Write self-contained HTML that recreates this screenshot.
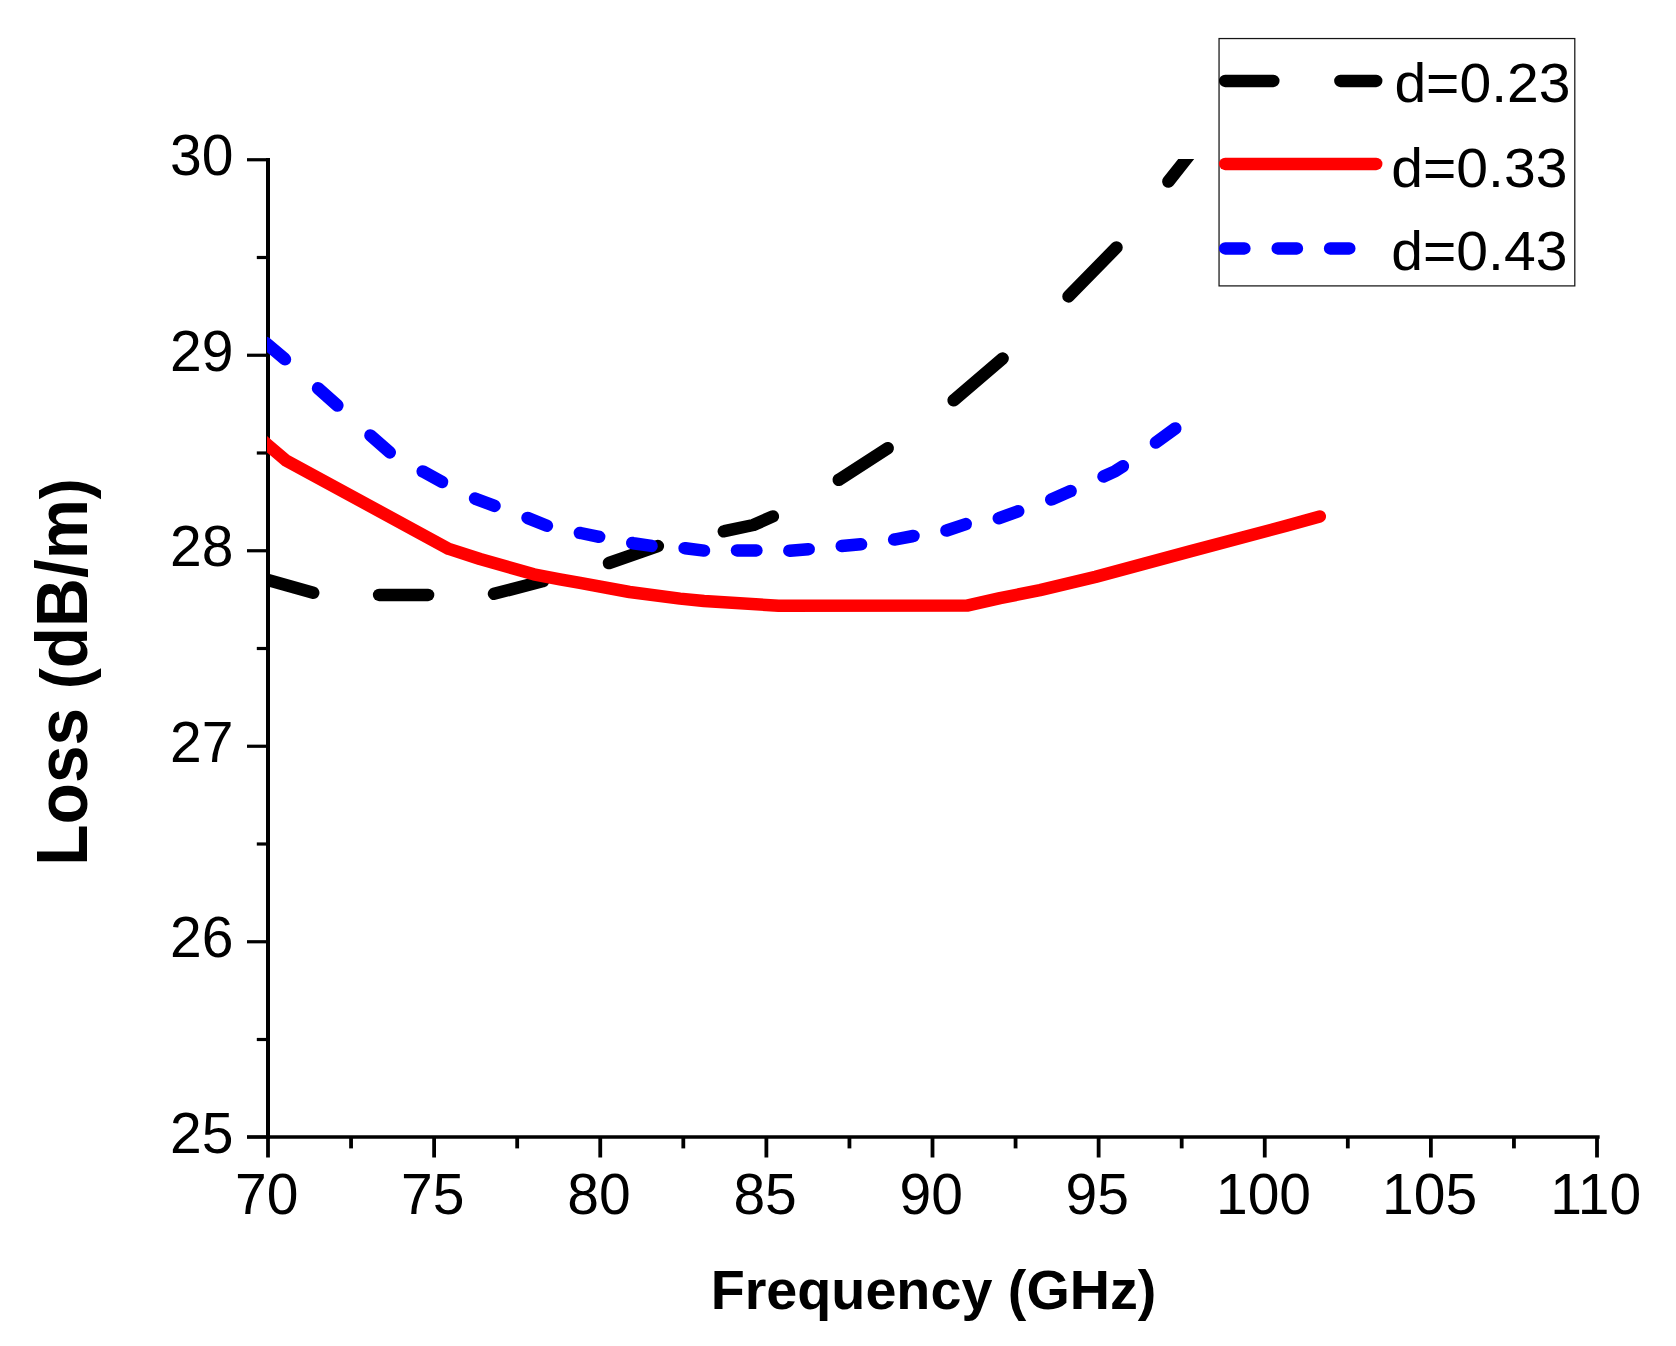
<!DOCTYPE html>
<html lang="en"><head><meta charset="utf-8"><title>Loss vs Frequency</title>
<style>html,body{margin:0;padding:0;background:#fff}body{width:1676px;height:1346px;overflow:hidden}</style></head>
<body>
<svg width="1676" height="1346" viewBox="0 0 1676 1346" style="display:block">
<rect width="1676" height="1346" fill="#fff"/>
<defs><clipPath id="cp"><rect x="267.0" y="159.0" width="1340" height="990"/></clipPath></defs>
<g stroke="#000" fill="none" stroke-linecap="butt">
<line x1="268.0" y1="157.9" x2="268.0" y2="1138.9" stroke-width="4"/>
<line x1="266" y1="1137.0" x2="1599.65" y2="1137.0" stroke-width="3.7"/>
<line x1="256.8" y1="1039.50" x2="268.0" y2="1039.50" stroke-width="3.2"/>
<line x1="247.0" y1="941.75" x2="268.0" y2="941.75" stroke-width="3.2"/>
<line x1="256.8" y1="844.00" x2="268.0" y2="844.00" stroke-width="3.2"/>
<line x1="247.0" y1="746.25" x2="268.0" y2="746.25" stroke-width="3.2"/>
<line x1="256.8" y1="648.50" x2="268.0" y2="648.50" stroke-width="3.2"/>
<line x1="247.0" y1="550.75" x2="268.0" y2="550.75" stroke-width="3.2"/>
<line x1="256.8" y1="453.00" x2="268.0" y2="453.00" stroke-width="3.2"/>
<line x1="247.0" y1="355.25" x2="268.0" y2="355.25" stroke-width="3.2"/>
<line x1="256.8" y1="257.50" x2="268.0" y2="257.50" stroke-width="3.2"/>
<line x1="247.0" y1="159.75" x2="268.0" y2="159.75" stroke-width="3.2"/>
<line x1="247.0" y1="1137.0" x2="268.0" y2="1137.0" stroke-width="3.7"/>
<line x1="268.00" y1="1137.0" x2="268.00" y2="1157.5" stroke-width="3.8"/>
<line x1="351.06" y1="1137.0" x2="351.06" y2="1148.4" stroke-width="3.8"/>
<line x1="434.12" y1="1137.0" x2="434.12" y2="1157.5" stroke-width="3.8"/>
<line x1="517.19" y1="1137.0" x2="517.19" y2="1148.4" stroke-width="3.8"/>
<line x1="600.25" y1="1137.0" x2="600.25" y2="1157.5" stroke-width="3.8"/>
<line x1="683.31" y1="1137.0" x2="683.31" y2="1148.4" stroke-width="3.8"/>
<line x1="766.38" y1="1137.0" x2="766.38" y2="1157.5" stroke-width="3.8"/>
<line x1="849.44" y1="1137.0" x2="849.44" y2="1148.4" stroke-width="3.8"/>
<line x1="932.50" y1="1137.0" x2="932.50" y2="1157.5" stroke-width="3.8"/>
<line x1="1015.56" y1="1137.0" x2="1015.56" y2="1148.4" stroke-width="3.8"/>
<line x1="1098.62" y1="1137.0" x2="1098.62" y2="1157.5" stroke-width="3.8"/>
<line x1="1181.69" y1="1137.0" x2="1181.69" y2="1148.4" stroke-width="3.8"/>
<line x1="1264.75" y1="1137.0" x2="1264.75" y2="1157.5" stroke-width="3.8"/>
<line x1="1347.81" y1="1137.0" x2="1347.81" y2="1148.4" stroke-width="3.8"/>
<line x1="1430.88" y1="1137.0" x2="1430.88" y2="1157.5" stroke-width="3.8"/>
<line x1="1513.94" y1="1137.0" x2="1513.94" y2="1148.4" stroke-width="3.8"/>
<line x1="1597.00" y1="1137.0" x2="1597.00" y2="1157.5" stroke-width="3.8"/>
</g>
<g font-family="'Liberation Sans', sans-serif" font-size="57" fill="#000">
<text x="233.5" y="1152.5" text-anchor="end">25</text>
<text x="233.5" y="957.0" text-anchor="end">26</text>
<text x="233.5" y="761.5" text-anchor="end">27</text>
<text x="233.5" y="566.0" text-anchor="end">28</text>
<text x="233.5" y="370.5" text-anchor="end">29</text>
<text x="233.5" y="175.0" text-anchor="end">30</text>
<text x="266.7" y="1214.0" text-anchor="middle">70</text>
<text x="432.8" y="1214.0" text-anchor="middle">75</text>
<text x="599.0" y="1214.0" text-anchor="middle">80</text>
<text x="765.1" y="1214.0" text-anchor="middle">85</text>
<text x="931.2" y="1214.0" text-anchor="middle">90</text>
<text x="1097.3" y="1214.0" text-anchor="middle">95</text>
<text x="1263.5" y="1214.0" text-anchor="middle">100</text>
<text x="1429.6" y="1214.0" text-anchor="middle">105</text>
<text x="1595.7" y="1214.0" text-anchor="middle">110</text>
</g>
<text transform="translate(933.5 1309.2) scale(0.988 1)" text-anchor="middle" font-family="'Liberation Sans', sans-serif" font-weight="bold" font-size="56.4" fill="#000">Frequency (GHz)</text>
<text transform="translate(87.4 672) rotate(-90) scale(0.946 1)" text-anchor="middle" font-family="'Liberation Sans', sans-serif" font-weight="bold" font-size="71.5" fill="#000">Loss <tspan font-size="66.2">(</tspan>dB/m<tspan font-size="66.2">)</tspan></text>
<g clip-path="url(#cp)" fill="none" stroke-width="12.5" stroke-linecap="round" stroke-linejoin="round">
<path d="M264.2 578.9 L268.0 580.0 L313.2 592.7" stroke="#000"/>
<path d="M379.1 594.9 L428.1 594.9" stroke="#000"/>
<path d="M494.0 593.8 L542.4 581.3 L543.0 581.1" stroke="#000"/>
<path d="M608.9 563.1 L609.1 563.0 L657.7 546.1 L657.9 546.1" stroke="#000"/>
<path d="M723.8 531.3 L724.4 531.2 L753.4 525.0 L772.8 516.4" stroke="#000"/>
<path d="M838.7 479.8 L839.0 479.7 L887.7 448.2" stroke="#000"/>
<path d="M953.6 400.3 L954.1 399.9 L1002.6 358.5" stroke="#000"/>
<path d="M1068.5 296.4 L1116.5 247.4" stroke="#000"/>
<path d="M1168.4 181.5 L1186.3 158.9 L1200.0 141.7" stroke="#000"/>
<path d="M257.0 435.8 L268.0 445.2 L286.0 460.5 L448.8 548.9 L480.0 559.0 L533.8 574.3 L560.0 579.3 L580.0 582.9 L629.5 592.0 L680.0 598.6 L704.0 601.0 L778.6 605.8 L967.0 605.6 L1000.0 598.1 L1040.0 590.2 L1095.5 576.9 L1190.9 551.1 L1286.4 525.8 L1319.8 516.5" stroke="#ff0000"/>
<path d="M265.6 342.9 L268.0 344.9 L284.6 358.9 L285.0 359.3" stroke="#0000ff"/>
<path d="M318.0 388.3 L318.0 388.3 L337.4 405.5" stroke="#0000ff"/>
<path d="M370.4 435.4 L389.8 452.4" stroke="#0000ff"/>
<path d="M422.7 471.4 L423.1 471.6 L442.1 481.9" stroke="#0000ff"/>
<path d="M475.1 498.5 L475.7 498.8 L494.5 505.9 L494.5 505.9" stroke="#0000ff"/>
<path d="M527.5 517.9 L528.0 518.1 L546.9 525.7" stroke="#0000ff"/>
<path d="M579.8 532.9 L580.5 533.0 L599.1 536.8 L599.2 536.8" stroke="#0000ff"/>
<path d="M632.2 543.0 L633.2 543.2 L651.6 545.9 L651.6 545.9" stroke="#0000ff"/>
<path d="M684.6 548.2 L685.3 548.2 L704.0 550.6" stroke="#0000ff"/>
<path d="M737.0 550.4 L737.9 550.4 L755.8 550.4 L756.4 550.4" stroke="#0000ff"/>
<path d="M789.3 550.7 L790.0 550.7 L808.3 549.2 L808.7 549.2" stroke="#0000ff"/>
<path d="M841.7 546.0 L841.7 546.0 L860.8 544.3 L861.1 544.3" stroke="#0000ff"/>
<path d="M894.1 539.6 L894.2 539.6 L913.3 536.0 L913.5 536.0" stroke="#0000ff"/>
<path d="M946.4 530.5 L946.7 530.5 L965.8 524.1 L965.8 524.1" stroke="#0000ff"/>
<path d="M998.8 518.2 L999.2 518.1 L1017.9 511.3 L1018.2 511.2" stroke="#0000ff"/>
<path d="M1051.2 499.5 L1051.4 499.4 L1070.6 491.1" stroke="#0000ff"/>
<path d="M1103.5 476.5 L1115.4 471.1 L1122.9 466.2" stroke="#0000ff"/>
<path d="M1155.9 442.5 L1175.3 428.4" stroke="#0000ff"/>
</g>
<rect x="1219.05" y="38.55" width="355.75" height="247.35" fill="#fff" stroke="#151515" stroke-width="1.25"/>
<g fill="none" stroke-width="12.5" stroke-linecap="round">
<path d="M1225.2 80.9 H1273.3 M1340.4 80.9 H1376.2" stroke="#000"/>
<path d="M1225.2 163.9 H1376.2" stroke="#ff0000"/>
<path d="M1225.2 248.4 h19.2 M1277.7 248.4 h19.2 M1330.1 248.4 h19.2" stroke="#0000ff"/>
</g>
<g font-family="'Liberation Sans', sans-serif" font-size="55.4" fill="#000">
<text transform="translate(1394.4 102.3) scale(1.03 1)">d=0.23</text>
<text transform="translate(1391.3 187.1) scale(1.03 1)">d=0.33</text>
<text transform="translate(1391.3 270.1) scale(1.03 1)">d=0.43</text>
</g>
</svg>
</body></html>
